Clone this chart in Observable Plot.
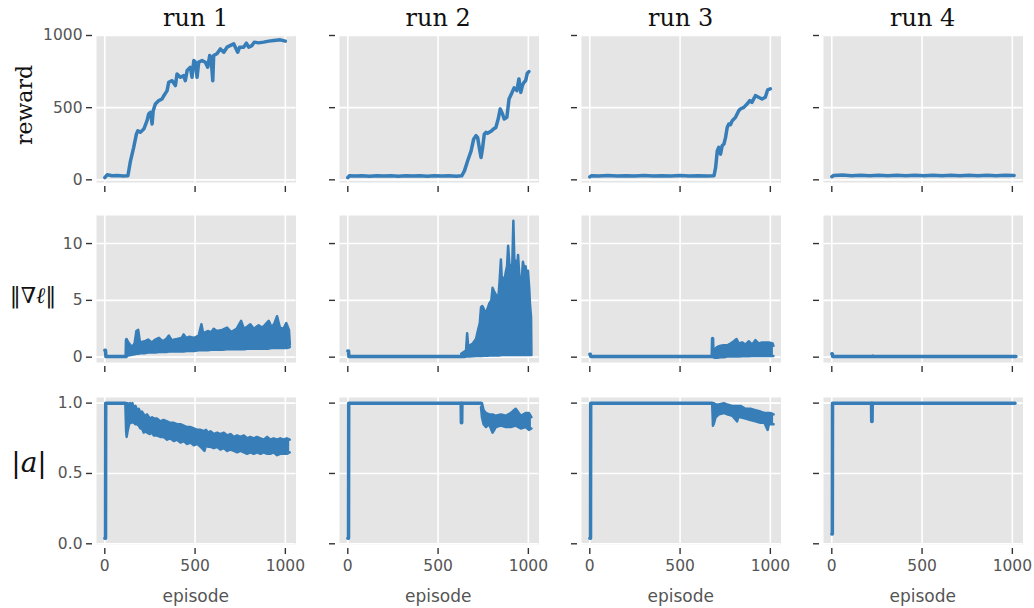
<!DOCTYPE html>
<html><head><meta charset="utf-8">
<script src="https://cdn.jsdelivr.net/npm/d3@7"></script>
<script src="https://cdn.jsdelivr.net/npm/@observablehq/plot@0.6"></script>
<style>
body{margin:0;background:#fff;}
#wrap{position:relative;width:1034px;height:608px;overflow:hidden;background:#fff;}
.p{position:absolute;}
.t{position:absolute;font-family:"DejaVu Serif",serif;color:#111;white-space:nowrap;line-height:1;}
.xl{position:absolute;font-family:"DejaVu Sans",sans-serif;font-size:17px;color:#555;text-align:center;line-height:1;}
</style></head><body><div id="wrap"></div>
<script>
// ---------- labels & ticks ----------
const runTitles = ["run 1", "run 2", "run 3", "run 4"];
const episodeTicks = [0, 500, 1000];
const rewardTicks = [0, 500, 1000];
const gradTicks = [0, 5, 10];
const actTicks = [0, 0.5, 1.0];

// ---------- reward (episode, reward) ----------
const reward1 = [[0,16],[13,35],[40,28],[70,30],[100,27],[128,28],[142,130],[160,225],[175,317],[183,340],[197,330],[216,352],[234,410],[243,456],[253,468],[262,387],[268,479],[280,525],[299,549],[317,560],[327,583],[345,618],[354,676],[373,687],[391,653],[400,734],[419,711],[437,722],[446,687],[456,757],[474,780],[483,711],[493,826],[502,815],[511,711],[520,815],[539,826],[557,815],[570,780],[581,861],[588,850],[598,687],[603,861],[621,873],[640,907],[659,884],[677,919],[714,942],[736,884],[747,919],[769,919],[784,947],[797,919],[815,930],[828,954],[852,949],[880,954],[908,961],[936,965],[972,970],[1000,961]];
const reward2 = [[0,15],[8,28],[40,26],[80,29],[120,25],[160,28],[200,26],[240,29],[280,25],[320,28],[360,26],[400,29],[440,25],[480,28],[520,26],[560,28],[600,25],[631,28],[646,62],[664,132],[683,201],[697,282],[710,306],[719,294],[728,225],[738,155],[747,225],[756,317],[765,329],[774,322],[793,336],[807,352],[820,363],[833,421],[844,491],[857,456],[866,421],[881,433],[893,560],[906,595],[921,637],[936,618],[948,699],[958,606],[967,653],[976,676],[985,687],[994,738],[1003,750]];
const reward3 = [[0,20],[10,29],[50,27],[100,30],[150,26],[200,29],[250,27],[300,30],[350,26],[400,29],[450,27],[500,30],[550,26],[600,29],[650,27],[688,28],[697,86],[706,201],[714,225],[724,178],[733,236],[743,248],[752,294],[761,363],[770,387],[779,382],[789,410],[798,421],[807,433],[825,479],[834,491],[853,502],[871,525],[886,549],[898,537],[917,583],[935,572],[954,560],[972,572],[985,623],[1000,630]];
const reward4 = [[0,22],[10,30],[60,33],[110,29],[160,32],[210,28],[260,31],[310,29],[360,32],[410,28],[460,31],[510,29],[560,32],[610,28],[660,31],[710,29],[760,32],[810,28],[860,31],[910,29],[960,32],[1010,30]];

// ---------- gradient norm ----------
const grad1Line = [[0,0.6],[4,0.6],[6,0.05],[118,0.05],[120,1.5]];
const grad1Band = [[120,0.1,1.6],[130,0.15,1.3],[150,0.2,0.9],[165,0.25,1.2],[175,0.3,2.3],[185,0.3,2.4],[195,0.35,1.3],[220,0.35,1.4],[240,0.4,1.55],[260,0.4,1.3],[280,0.4,1.55],[300,0.45,1.7],[320,0.45,1.4],[340,0.45,1.6],[355,0.5,1.9],[370,0.5,1.5],[400,0.5,1.6],[425,0.5,1.7],[437,0.5,2.0],[450,0.55,1.7],[470,0.55,1.8],[495,0.55,1.7],[520,0.6,1.9],[535,0.6,2.9],[545,0.6,2.1],[570,0.6,2.3],[590,0.65,2.2],[603,0.65,2.5],[620,0.65,2.3],[650,0.65,2.4],[677,0.7,2.6],[700,0.7,2.2],[730,0.7,2.5],[755,0.7,3.2],[770,0.7,2.5],[790,0.75,2.7],[806,0.75,2.9],[825,0.75,2.5],[852,0.75,2.8],[870,0.75,2.6],[885,0.75,2.8],[908,0.75,3.2],[925,0.8,2.6],[940,0.8,3.0],[954,0.8,3.6],[970,0.8,2.6],[990,0.8,2.5],[1005,0.8,3.0],[1020,0.85,2.4],[1025,0.9,1.1]];
const grad2Line = [[0,0.55],[4,0.55],[6,0.05],[628,0.05]];
const grad2Band = [[628,0.02,0.3],[646,0.02,0.5],[655,0.05,0.6],[661,0.05,2.1],[667,0.05,0.9],[673,0.05,1.0],[692,0.08,1.2],[710,0.1,1.6],[723,0.1,2.5],[731,0.1,3.0],[738,0.1,4.4],[745,0.1,4.5],[752,0.12,4.3],[760,0.12,3.8],[765,0.12,4.0],[775,0.12,4.3],[783,0.15,4.7],[795,0.15,5.0],[802,0.15,6.1],[810,0.15,5.8],[820,0.15,5.5],[833,0.15,5.1],[840,0.15,6.5],[848,0.18,8.6],[854,0.18,6.5],[860,0.18,7.0],[868,0.18,6.8],[875,0.18,7.5],[882,0.18,8.0],[888,0.2,9.8],[895,0.2,8.2],[903,0.2,8.0],[910,0.2,7.5],[917,0.2,12.0],[923,0.2,8.2],[930,0.2,8.5],[937,0.2,7.5],[943,0.2,9.0],[950,0.2,7.2],[958,0.2,6.7],[964,0.2,7.0],[970,0.2,8.4],[977,0.2,7.8],[985,0.2,8.0],[992,0.2,7.0],[998,0.2,7.6],[1005,0.2,6.0],[1009,0.2,4.7],[1015,0.2,3.5],[1017,0.2,0.3]];
const grad3Line = [[0,0.25],[3,0.25],[5,0.05],[678,0.05],[680,1.65],[683,0.1]];
const grad3Band = [[683,0.0,0.6],[691,-0.05,0.7],[706,-0.05,0.9],[724,0.0,1.0],[743,0.0,1.05],[761,0.05,1.05],[779,0.05,1.2],[798,0.05,1.4],[813,0.05,1.6],[825,0.05,1.2],[844,0.08,1.3],[862,0.08,1.1],[880,0.08,1.4],[899,0.1,1.1],[917,0.1,1.5],[936,0.1,1.2],[954,0.1,1.3],[972,0.1,1.3],[991,0.1,1.3],[1013,0.1,1.2],[1017,0.1,1.0]];
const grad4Line = [[0,0.3],[3,0.3],[5,0.05],[225,0.05],[228,0.1],[231,0.05],[1020,0.05]];

// ---------- |a| ----------
const act1Line = [[0,0.04],[4,0.04],[5,1.0],[114,1.0]];
const act1Band = [[114,0.99,1.0],[118,0.8,1.0],[121,0.76,1.0],[126,0.8,1.0],[133,0.84,0.99],[140,0.87,1.0],[146,0.86,0.98],[153,0.87,1.0],[160,0.86,0.97],[170,0.85,0.98],[179,0.85,0.95],[188,0.84,0.96],[197,0.82,0.93],[206,0.82,0.94],[216,0.79,0.92],[225,0.80,0.91],[234,0.79,0.92],[250,0.78,0.89],[262,0.79,0.90],[271,0.77,0.89],[290,0.77,0.89],[308,0.76,0.87],[325,0.76,0.88],[345,0.74,0.87],[362,0.75,0.86],[382,0.73,0.86],[400,0.74,0.85],[419,0.72,0.85],[437,0.73,0.84],[456,0.71,0.83],[475,0.72,0.83],[493,0.70,0.82],[512,0.71,0.81],[530,0.69,0.81],[552,0.66,0.80],[560,0.70,0.81],[572,0.69,0.79],[585,0.69,0.80],[604,0.68,0.78],[622,0.69,0.79],[640,0.67,0.78],[659,0.68,0.79],[678,0.66,0.77],[696,0.67,0.78],[715,0.66,0.76],[733,0.65,0.77],[751,0.66,0.76],[770,0.65,0.77],[788,0.64,0.75],[806,0.65,0.76],[825,0.64,0.75],[843,0.65,0.76],[862,0.64,0.75],[880,0.65,0.74],[899,0.64,0.76],[917,0.64,0.74],[935,0.65,0.75],[954,0.63,0.74],[972,0.64,0.75],[990,0.64,0.74],[1008,0.64,0.75],[1024,0.65,0.74]];
const act2Line = [[0,0.04],[4,0.04],[5,1.0],[628,1.0],[629,0.86],[631,0.86],[632,1.0],[738,1.0]];
const act2Band = [[738,0.97,1.0],[743,0.9,1.0],[752,0.85,0.95],[765,0.83,0.93],[783,0.85,0.92],[802,0.79,0.92],[820,0.83,0.91],[848,0.84,0.92],[875,0.83,0.91],[903,0.83,0.93],[930,0.84,0.96],[958,0.82,0.91],[985,0.83,0.93],[1003,0.81,0.93],[1017,0.82,0.90]];
const act3Line = [[0,0.04],[4,0.04],[5,1.0],[678,1.0]];
const act3Band = [[678,0.99,1.0],[682,0.84,1.0],[686,0.85,1.0],[697,0.9,0.99],[715,0.92,0.99],[743,0.93,1.0],[761,0.92,0.99],[789,0.91,0.98],[816,0.87,0.98],[822,0.9,0.98],[835,0.90,0.98],[862,0.89,0.96],[890,0.88,0.96],[917,0.87,0.95],[945,0.86,0.94],[967,0.86,0.93],[985,0.81,0.93],[992,0.85,0.93],[1000,0.85,0.93],[1018,0.85,0.92]];
const act4Line = [[0,0.07],[3,0.07],[4,1.0],[220,1.0],[221,0.87],[223,0.87],[224,1.0],[1015,1.0]];

// ---------- layout ----------
const BLUE = "#377eb8";
const panelLeft = [96, 338.5, 581, 823];
const panelTop = [35, 215, 397];
const PW = 199.5, PH = 147;
const ML = 60, MR = 6, MT = 6, MB = 40;
const xDomain = [-46, 1059];

const rows = [
  {ticks: rewardTicks, domain: [-18.5, 1000], fmt: d => String(d),
   lines: [reward1, reward2, reward3, reward4], bands: [null, null, null, null]},
  {ticks: gradTicks, domain: [-0.47, 12.47], fmt: d => String(d),
   lines: [grad1Line, grad2Line, grad3Line, grad4Line], bands: [grad1Band, grad2Band, grad3Band, null]},
  {ticks: actTicks, domain: [-0.005, 1.04], fmt: d3.format(".1f"),
   lines: [act1Line, act2Line, act3Line, act4Line], bands: [act1Band, act2Band, act3Band, null]}
];

const wrap = document.getElementById("wrap");

rows.forEach((row, r) => {
  for (let c = 0; c < 4; c++) {
    const band = row.bands[c];
    const marks = [
      Plot.frame({fill: "#e5e5e5", stroke: null}),
      Plot.gridX(episodeTicks, {stroke: "white", strokeOpacity: 1, strokeWidth: 1.6}),
      Plot.gridY(row.ticks, {stroke: "white", strokeOpacity: 1, strokeWidth: 1.6}),
      Plot.axisX(episodeTicks, {tickSize: 6, dy: 4, tickPadding: 5, stroke: "#333", strokeWidth: 1.4, fill: "#555",
        tickFormat: r === 2 ? (d => String(d)) : (() => ""), label: null}),
      Plot.axisY(row.ticks, {tickSize: 6, dx: -4, tickPadding: 4, stroke: "#333", strokeWidth: 1.4, fill: "#555",
        tickFormat: c === 0 ? row.fmt : (() => ""), label: null})
    ];
    if (band) {
      marks.push(Plot.areaY(band, {x: d => d[0], y1: d => d[1], y2: d => d[2], fill: BLUE, curve: "linear"}));
      marks.push(Plot.line(band, {x: d => d[0], y: d => d[2], stroke: BLUE, strokeWidth: 2.5, strokeLinejoin: "round"}));
      marks.push(Plot.line(band, {x: d => d[0], y: d => d[1], stroke: BLUE, strokeWidth: 2.5, strokeLinejoin: "round"}));
    }
    marks.push(Plot.line(row.lines[c], {x: d => d[0], y: d => d[1], stroke: BLUE, strokeWidth: 3.5,
      strokeLinejoin: "round", strokeLinecap: "round"}));
    const svg = Plot.plot({
      width: PW + ML + MR, height: PH + MT + MB,
      marginLeft: ML, marginRight: MR, marginTop: MT, marginBottom: MB,
      x: {domain: xDomain, label: null},
      y: {domain: row.domain, label: null},
      style: {fontFamily: "DejaVu Sans, sans-serif", fontSize: "15.5px", background: "transparent", overflow: "visible"},
      marks
    });
    svg.classList.add("p");
    svg.style.left = (panelLeft[c] - ML) + "px";
    svg.style.top = (panelTop[r] - MT) + "px";
    svg.style.maxWidth = "none";
    wrap.appendChild(svg);
  }
});

// titles and x labels
runTitles.forEach((t, c) => {
  const d = document.createElement("div");
  d.className = "t";
  d.textContent = t;
  d.style.fontSize = "24px";
  d.style.left = panelLeft[c] + "px";
  d.style.width = PW + "px";
  d.style.textAlign = "center";
  d.style.top = "6px";
  wrap.appendChild(d);
  const e = document.createElement("div");
  e.className = "xl";
  e.textContent = "episode";
  e.style.left = panelLeft[c] + "px";
  e.style.width = PW + "px";
  e.style.top = "588px";
  wrap.appendChild(e);
});

// row labels
function rowLabel(html, cx, cy, size, rot) {
  const d = document.createElement("div");
  d.className = "t";
  d.innerHTML = html;
  d.style.fontSize = size + "px";
  d.style.left = cx + "px";
  d.style.top = cy + "px";
  d.style.transform = "translate(-50%,-50%)" + (rot ? " rotate(-90deg)" : "");
  wrap.appendChild(d);
}
rowLabel("reward", 25, 105, 22, true);
rowLabel("\u2016\u2207<i>\u2113</i>\u2016", 33, 296, 22, false);
rowLabel("|<i>a</i>|", 29, 463, 28, false);
</script>
</body></html>
